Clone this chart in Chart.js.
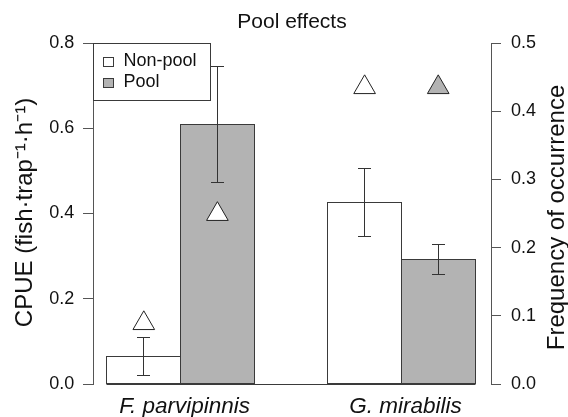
<!DOCTYPE html>
<html>
<head>
<meta charset="utf-8">
<script src="https://cdn.jsdelivr.net/npm/chart.js@4"></script>
<style>
  html, body { margin: 0; padding: 0; background: #fff; }
  #wrap { width: 568px; height: 417px; }
</style>
</head>
<body>
<div id="wrap"><canvas id="c" width="568" height="417"></canvas></div>
<script>
// Catch per unit effort and frequency of occurrence, pool vs non-pool traps
const species = ['F. parvipinnis', 'G. mirabilis'];
const seriesNames = ['Non-pool', 'Pool'];
const cpueNonPool = [0.065, 0.425];
const cpueNonPoolSE = [0.044, 0.080];
const cpuePool = [0.608, 0.293];
const cpuePoolSE = [0.136, 0.035];
const freqNonPool = [0.089, 0.435];
const freqPool = [0.249, 0.435];
const cpueTicks = [0, 0.2, 0.4, 0.6, 0.8];
const freqTicks = [0, 0.1, 0.2, 0.3, 0.4, 0.5];

const FONT = "'Liberation Sans', Arial, Helvetica, sans-serif";
const INK = '#111';
const AXIS = '#555';
const OUTLINE = '#3a3a3a';
const WHITE = '#ffffff';
const GREY = '#b3b3b3';

Chart.defaults.font.family = FONT;
Chart.defaults.color = INK;

// bars are one unit wide, two per group, groups one unit apart
const groupCenter = i => 3 * i + 1;
const half = p => Math.round(p - 0.5) + 0.5;

const barData = (vals) => vals.map((v, i) => ({ x: groupCenter(i), y: v }));
const pointData = (vals, shift) => vals.map((v, i) => ({ x: groupCenter(i) + shift, y: v }));

const decorations = {
  id: 'decorations',
  afterDatasetDraw(chart, args) {
    const meta = args.meta;
    if (meta.type !== 'bar') return;
    const ds = chart.data.datasets[args.index];
    const ctx = chart.ctx;
    const ys = chart.scales.y;
    ctx.save();
    ctx.lineWidth = 1;
    meta.data.forEach((bar, i) => {
      const p = bar.getProps(['x', 'y', 'base', 'width'], true);
      const l = half(p.x - p.width / 2), r = half(p.x + p.width / 2);
      const t = half(p.y), b = half(p.base);
      ctx.strokeStyle = OUTLINE;
      ctx.strokeRect(l, t, r - l, b - t);
      // standard error whiskers
      const v = ds.data[i].y, e = ds.errors[i];
      const hi = half(ys.getPixelForValue(v + e));
      const lo = half(ys.getPixelForValue(v - e));
      const cx = half(p.x);
      ctx.strokeStyle = '#333';
      ctx.beginPath();
      ctx.moveTo(cx, hi); ctx.lineTo(cx, lo);
      ctx.moveTo(cx - 6.5, hi); ctx.lineTo(cx + 6.5, hi);
      ctx.moveTo(cx - 6.5, lo); ctx.lineTo(cx + 6.5, lo);
      ctx.stroke();
    });
    ctx.restore();
  },
  afterDatasetsDraw(chart) {
    const ctx = chart.ctx;
    const area = chart.chartArea;
    const ys = chart.scales.y;
    // zero line running under both bar groups
    const bars = chart.getDatasetMeta(0).data;
    const lastBars = chart.getDatasetMeta(1).data;
    const first = bars[0].getProps(['x', 'width'], true);
    const last = lastBars[lastBars.length - 1].getProps(['x', 'width'], true);
    const y0 = half(ys.getPixelForValue(0));
    ctx.save();
    ctx.strokeStyle = OUTLINE;
    ctx.lineWidth = 1;
    ctx.beginPath();
    ctx.moveTo(half(first.x - first.width / 2), y0);
    ctx.lineTo(half(last.x + last.width / 2), y0);
    ctx.stroke();

    // title
    ctx.fillStyle = INK;
    ctx.font = '21px ' + FONT;
    ctx.textAlign = 'center';
    ctx.textBaseline = 'alphabetic';
    ctx.fillText('Pool effects', (area.left + area.right) / 2, 27.5);

    // axis titles, both reading bottom to top
    const midY = (area.top + area.bottom) / 2;
    ctx.font = '24px ' + FONT;
    ctx.save();
    ctx.translate(32, midY - 1);
    ctx.rotate(-Math.PI / 2);
    ctx.fillText('CPUE (fish\u00b7trap\u207b\u00b9\u00b7h\u207b\u00b9)', 0, 0);
    ctx.restore();
    ctx.save();
    ctx.translate(564, midY + 4);
    ctx.rotate(-Math.PI / 2);
    ctx.fillText('Frequency of occurrence', 0, 0);
    ctx.restore();

    // legend in the top-left corner of the plot
    const L = half(area.left), T = half(area.top);
    ctx.strokeStyle = OUTLINE;
    ctx.strokeRect(L, T, 117, 57);
    ctx.font = '18px ' + FONT;
    ctx.textAlign = 'left';
    ctx.textBaseline = 'middle';
    [0, 1].forEach(k => {
      const ds = chart.data.datasets[k];
      const cy = T + 18 + k * 21;
      ctx.fillStyle = ds.backgroundColor;
      ctx.fillRect(L + 10, Math.round(cy - 5) + 0.5, 10, 9);
      ctx.strokeStyle = OUTLINE;
      ctx.strokeRect(L + 10, Math.round(cy - 5) + 0.5, 10, 9);
      ctx.fillStyle = INK;
      ctx.fillText(ds.label, L + 30, cy);
    });
    ctx.restore();
  }
};

const tickAxis = (ticks, width, padding) => ({
  min: ticks[0],
  max: ticks[ticks.length - 1],
  afterBuildTicks: s => { s.ticks = ticks.map(v => ({ value: v })); },
  afterFit: s => { s.width = width; },
  ticks: { callback: v => v.toFixed(1), font: { size: 18 }, padding: padding, color: INK },
  grid: { drawOnChartArea: false, drawTicks: true, tickLength: 10, color: AXIS, tickColor: AXIS },
  border: { display: true, color: AXIS, width: 1 }
});

new Chart(document.getElementById('c'), {
  type: 'bar',
  data: {
    datasets: [
      {
        label: seriesNames[0], data: barData(cpueNonPool), errors: cpueNonPoolSE,
        backgroundColor: WHITE, borderWidth: 0, yAxisID: 'y', order: 1
      },
      {
        label: seriesNames[1], data: barData(cpuePool), errors: cpuePoolSE,
        backgroundColor: GREY, borderWidth: 0, yAxisID: 'y', order: 1
      },
      {
        type: 'line', label: seriesNames[0] + ' occurrence', data: pointData(freqNonPool, -0.5),
        yAxisID: 'y2', showLine: false, order: 0,
        pointStyle: 'triangle', pointRadius: 12.5, pointHoverRadius: 12.5,
        pointBackgroundColor: WHITE, pointBorderColor: '#222', pointBorderWidth: 1
      },
      {
        type: 'line', label: seriesNames[1] + ' occurrence', data: pointData(freqPool, 0.5),
        yAxisID: 'y2', showLine: false, order: 0,
        pointStyle: 'triangle', pointRadius: 12.5, pointHoverRadius: 12.5,
        pointBackgroundColor: [WHITE, GREY], pointBorderColor: '#222', pointBorderWidth: 1
      }
    ]
  },
  options: {
    responsive: false,
    animation: false,
    events: [],
    layout: { padding: { top: 43, left: 0, right: 0, bottom: 0 } },
    datasets: { bar: { barPercentage: 1, categoryPercentage: 2 / 3 } },
    plugins: {
      legend: { display: false },
      tooltip: { enabled: false },
      title: { display: false }
    },
    scales: {
      x: {
        type: 'linear',
        min: -0.19,
        max: 5.217,
        offset: false,
        afterBuildTicks: s => { s.ticks = species.map((_, i) => ({ value: groupCenter(i) })); },
        afterFit: s => { s.height = 33; },
        ticks: {
          callback: (v, i) => species[i],
          font: { size: 22.5, style: 'italic' },
          padding: 9, labelOffset: 4, color: INK, maxRotation: 0, autoSkip: false
        },
        grid: { display: false, drawTicks: false, offset: false },
        border: { display: false }
      },
      y: Object.assign({ position: 'left' }, tickAxis(cpueTicks, 93, 8.7)),
      y2: Object.assign({ position: 'right' }, tickAxis(freqTicks, 77, 10))
    }
  },
  plugins: [decorations]
});
</script>
</body>
</html>
